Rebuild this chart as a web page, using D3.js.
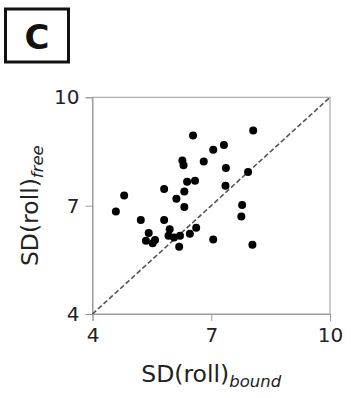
<!DOCTYPE html>
<html>
<head>
<meta charset="utf-8">
<script src="https://cdn.jsdelivr.net/npm/d3@7"></script>
<style>
  html, body { margin: 0; padding: 0; background: #fff; }
  svg { display: block; font-family: "DejaVu Sans", sans-serif; }
</style>
</head>
<body>
<svg id="chart" width="351" height="398"></svg>
<script>
// ---- data ----
const boundSD = [4.59, 4.80, 5.22, 5.42, 5.35, 5.52, 5.58, 5.81, 5.81, 5.95, 5.92, 6.06, 6.12, 6.21, 6.19, 6.27, 6.30, 6.32, 6.32, 6.39, 6.46, 6.54, 6.59, 6.62, 6.81, 7.05, 7.05, 7.32, 7.37, 7.36, 7.78, 7.76, 7.93, 8.06, 8.04];
const freeSD  = [6.84, 7.28, 6.60, 6.24, 6.03, 5.96, 6.05, 7.46, 6.60, 6.35, 6.17, 6.12, 7.19, 6.17, 5.86, 8.25, 8.12, 7.39, 6.96, 7.66, 6.22, 8.94, 7.69, 6.39, 8.22, 8.55, 6.06, 8.68, 8.04, 7.55, 7.02, 6.70, 7.93, 9.08, 5.92];
const tickValues = [4, 7, 10];
const axisDomain = [4, 10];
const panelLabel = "C";

// ---- layout ----
const svg = d3.select("#chart");
const plotL = 92.5, plotR = 330, plotT = 97.3, plotB = 314;

const x = d3.scaleLinear().domain(axisDomain).range([plotL, plotR]);
const y = d3.scaleLinear().domain(axisDomain).range([plotB, plotT]);

// panel label box
svg.append("rect")
  .attr("x", 5.5).attr("y", 9).attr("width", 63).attr("height", 53)
  .attr("fill", "none").attr("stroke", "#111").attr("stroke-width", 3);
svg.append("text")
  .attr("x", 37).attr("y", 48.5)
  .attr("text-anchor", "middle")
  .attr("font-size", 34).attr("font-weight", "bold").attr("fill", "#111")
  .text(panelLabel);

// frame (all spines)
svg.append("rect")
  .attr("x", plotL).attr("y", plotT).attr("width", plotR - plotL).attr("height", plotB - plotT)
  .attr("fill", "none").attr("stroke", "#9a9a9a").attr("stroke-width", 1);

// axes
const xAxis = d3.axisBottom(x).tickValues(tickValues).tickFormat(d3.format("d")).tickSize(7).tickPadding(7);
const yAxis = d3.axisLeft(y).tickValues(tickValues).tickFormat(d3.format("d")).tickSize(7).tickPadding(6);

const gx = svg.append("g").attr("transform", `translate(0,${plotB})`).call(xAxis);
const gy = svg.append("g").attr("transform", `translate(${plotL},0)`).call(yAxis);
[gx, gy].forEach(g => {
  g.select(".domain").attr("stroke", "#9a9a9a");
  g.selectAll(".tick line").attr("stroke", "#9a9a9a").attr("stroke-width", 1);
  g.selectAll(".tick text").attr("fill", "#222").attr("font-size", 20)
    .attr("font-family", "DejaVu Sans, sans-serif");
});

// identity line
svg.append("line")
  .attr("x1", x(axisDomain[0])).attr("y1", y(axisDomain[0]))
  .attr("x2", x(axisDomain[1])).attr("y2", y(axisDomain[1]))
  .attr("stroke", "#555").attr("stroke-width", 1.6)
  .attr("stroke-dasharray", "5,2.5");

// points
svg.append("g").selectAll("circle")
  .data(boundSD.map((b, i) => [b, freeSD[i]]))
  .join("circle")
  .attr("cx", d => x(d[0]))
  .attr("cy", d => y(d[1]))
  .attr("r", 4)
  .attr("fill", "#000");

// x label
const xl = svg.append("text")
  .attr("x", (plotL + plotR) / 2).attr("y", 382)
  .attr("text-anchor", "middle").attr("fill", "#222").attr("font-size", 23.5);
xl.append("tspan").text("SD(roll)");
xl.append("tspan").attr("dy", 5).attr("font-size", 16.5).attr("font-style", "italic").text("bound");

// y label
const yl = svg.append("text")
  .attr("transform", `translate(38,${(plotT + plotB) / 2}) rotate(-90)`)
  .attr("text-anchor", "middle").attr("fill", "#222").attr("font-size", 23.5);
yl.append("tspan").text("SD(roll)");
yl.append("tspan").attr("dy", 5).attr("font-size", 16.5).attr("font-style", "italic").text("free");
</script>
</body>
</html>
